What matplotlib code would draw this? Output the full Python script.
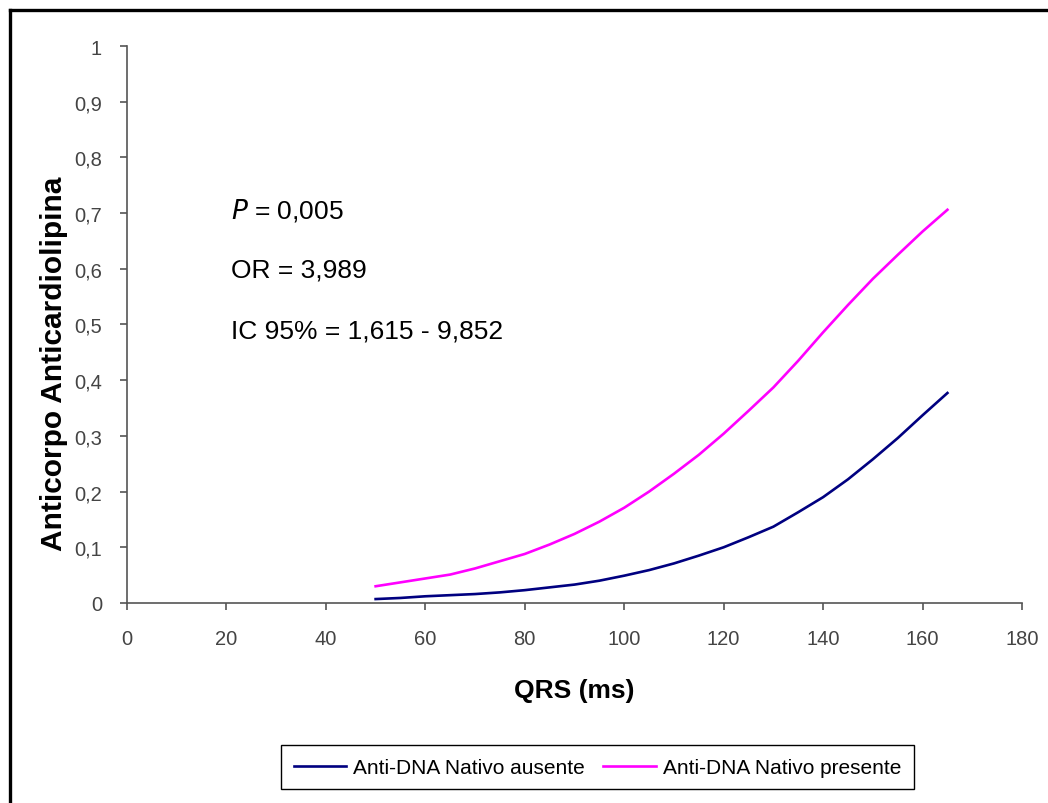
import matplotlib.pyplot as plt
from matplotlib.lines import Line2D

plt.rcParams['font.family'] = ['Liberation Sans', 'DejaVu Sans']

# QRS values (ms) and probabilities
qrs = [50, 55, 60, 65, 70, 75, 80, 85, 90, 95, 100, 105, 110, 115,
       120, 125, 130, 135, 140, 145, 150, 155, 160, 165]
ausente = [0.007, 0.009, 0.012, 0.014, 0.016, 0.019, 0.023, 0.028, 0.033, 0.040,
           0.049, 0.059, 0.071, 0.085, 0.100, 0.118, 0.137, 0.163, 0.190, 0.222,
           0.258, 0.296, 0.337, 0.377]
presente = [0.030, 0.037, 0.044, 0.051, 0.062, 0.075, 0.088, 0.105, 0.124, 0.146,
            0.171, 0.200, 0.232, 0.266, 0.304, 0.345, 0.387, 0.435, 0.486, 0.535,
            0.582, 0.625, 0.667, 0.706]

x_ticks = list(range(0, 181, 20))
y_ticks = [i / 10 for i in range(11)]
y_labels = ['0', '0,1', '0,2', '0,3', '0,4', '0,5', '0,6', '0,7', '0,8', '0,9', '1']
stats = ['$\\it{P}$ = 0,005', 'OR = 3,989', 'IC 95% = 1,615 - 9,852']

fig = plt.figure(figsize=(10.48, 8.04), dpi=100)
ax = fig.add_axes([0.1212, 0.2488, 0.8540, 0.6927])

ax.plot(qrs, ausente, color='#000080', lw=1.9, label='Anti-DNA Nativo ausente')
ax.plot(qrs, presente, color='#FF00FF', lw=1.9, label='Anti-DNA Nativo presente')

ax.set_xlim(0, 180)
ax.set_ylim(0, 1)
ax.set_xticks(x_ticks)
ax.set_yticks(y_ticks)
ax.set_yticklabels(y_labels)
for s in ['top', 'right']:
    ax.spines[s].set_visible(False)
for s in ['left', 'bottom']:
    ax.spines[s].set_color('#555555')
    ax.spines[s].set_linewidth(1.2)
ax.tick_params(colors='#555555', labelcolor='#444444', labelsize=14.5, length=5, width=1.2)
ax.tick_params(axis='x', pad=14)
ax.tick_params(axis='y', pad=13)

ax.set_xlabel('QRS (ms)', fontsize=19, fontweight='bold')
ax.xaxis.set_label_coords(0.5, -0.135)
ax.set_ylabel('Anticorpo Anticardiolipina', fontsize=21.5, fontweight='bold')
ax.yaxis.set_label_coords(-0.066, 0.431)

for i, t in enumerate(stats):
    ax.text(21, 0.707 - i * 0.109, t, fontsize=19, va='center', ha='left')

fig.legend(loc='center', bbox_to_anchor=(0.570, 0.0442), ncol=2, fontsize=15,
           frameon=True, fancybox=False, edgecolor='black', framealpha=1,
           handlelength=2.5, columnspacing=0.9, borderpad=0.6, handletextpad=0.35)

# black frame edges at top and left (cropped chart border)
fig.add_artist(Line2D([9.5 / 1048, 1], [1 - 10.5 / 804, 1 - 10.5 / 804], color='black', lw=2.4))
fig.add_artist(Line2D([9.5 / 1048, 9.5 / 1048], [0, 1 - 10.5 / 804], color='black', lw=2.4))

fig.savefig('out.png', dpi=100)
